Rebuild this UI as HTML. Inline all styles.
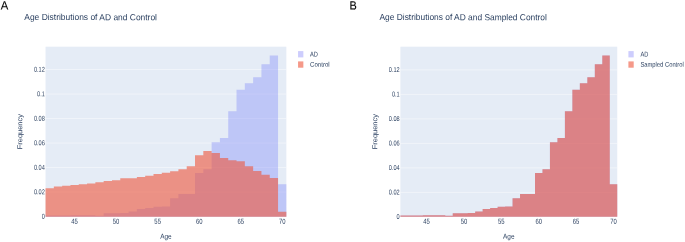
<!DOCTYPE html>
<html><head><meta charset="utf-8"><title>Age Distributions</title>
<style>
html,body{margin:0;padding:0;background:#fff;}
body{width:685px;height:242px;overflow:hidden;}
svg{display:block;font-family:"Liberation Sans",sans-serif;}
</style></head>
<body>
<svg width="685" height="242" viewBox="0 0 685 242">
<defs><filter id="b" x="-5%" y="-5%" width="110%" height="110%"><feGaussianBlur stdDeviation="0.3"/></filter></defs>
<rect width="685" height="242" fill="#fff"/>
<g>
<rect x="45.55" y="46.7" width="240.80" height="170.00" fill="#e5ecf6"/>
<line x1="45.55" x2="286.35" y1="192.05" y2="192.05" stroke="#fff" stroke-width="0.45"/>
<line x1="45.55" x2="286.35" y1="167.55" y2="167.55" stroke="#fff" stroke-width="0.45"/>
<line x1="45.55" x2="286.35" y1="143.05" y2="143.05" stroke="#fff" stroke-width="0.45"/>
<line x1="45.55" x2="286.35" y1="118.55" y2="118.55" stroke="#fff" stroke-width="0.45"/>
<line x1="45.55" x2="286.35" y1="94.05" y2="94.05" stroke="#fff" stroke-width="0.45"/>
<line x1="45.55" x2="286.35" y1="69.55" y2="69.55" stroke="#fff" stroke-width="0.45"/>
<path d="M45.55,216.70L45.55,215.52L53.85,215.52L53.85,215.52L62.16,215.52L62.16,215.52L70.46,215.52L70.46,215.15L78.76,215.15L78.76,215.15L87.07,215.15L87.07,215.15L95.37,215.15L95.37,215.76L103.67,215.76L103.67,213.31L111.98,213.31L111.98,213.31L120.28,213.31L120.28,212.95L128.58,212.95L128.58,211.60L136.89,211.60L136.89,209.03L145.19,209.03L145.19,207.93L153.49,207.93L153.49,206.82L161.80,206.82L161.80,206.58L170.10,206.58L170.10,198.25L178.41,198.25L178.41,194.08L186.71,194.08L186.71,194.08L195.01,194.08L195.01,173.01L203.32,173.01L203.32,169.34L211.62,169.34L211.62,142.14L219.92,142.14L219.92,138.10L228.23,138.10L228.23,111.15L236.53,111.15L236.53,89.83L244.83,89.83L244.83,83.22L253.14,83.22L253.14,77.22L261.44,77.22L261.44,64.23L269.74,64.23L269.74,55.41L278.05,55.41L278.05,184.28L286.35,184.28L286.35,216.70Z" fill="rgb(99,110,250)" fill-opacity="0.3"/>
<path d="M45.55,216.70L45.55,188.32L53.85,188.32L53.85,186.49L62.16,186.49L62.16,185.75L70.46,185.75L70.46,184.90L78.76,184.90L78.76,184.16L87.07,184.16L87.07,183.43L95.37,183.43L95.37,182.32L103.67,182.32L103.67,180.97L111.98,180.97L111.98,180.36L120.28,180.36L120.28,178.28L128.58,178.28L128.58,178.16L136.89,178.16L136.89,177.06L145.19,177.06L145.19,175.83L153.49,175.83L153.49,174.12L161.80,174.12L161.80,172.65L170.10,172.65L170.10,171.30L178.41,171.30L178.41,169.22L186.71,169.22L186.71,166.28L195.01,166.28L195.01,155.13L203.32,155.13L203.32,150.96L211.62,150.96L211.62,153.05L219.92,153.05L219.92,157.94L228.23,157.94L228.23,160.15L236.53,160.15L236.53,161.13L244.83,161.13L244.83,166.15L253.14,166.15L253.14,170.93L261.44,170.93L261.44,174.85L269.74,174.85L269.74,177.91L278.05,177.91L278.05,211.72L286.35,211.72L286.35,216.70Z" fill="rgb(239,85,59)" fill-opacity="0.6"/>
<rect x="298.05" y="51.1" width="5.3" height="6.3" fill="#cdcdfd"/>
<rect x="298.05" y="61.4" width="5.3" height="6.3" fill="rgb(239,85,59)" fill-opacity="0.6"/>
<rect x="400.4" y="46.7" width="216.85" height="170.00" fill="#e5ecf6"/>
<line x1="400.4" x2="617.25" y1="192.40" y2="192.40" stroke="#fff" stroke-width="0.45"/>
<line x1="400.4" x2="617.25" y1="167.90" y2="167.90" stroke="#fff" stroke-width="0.45"/>
<line x1="400.4" x2="617.25" y1="143.40" y2="143.40" stroke="#fff" stroke-width="0.45"/>
<line x1="400.4" x2="617.25" y1="118.90" y2="118.90" stroke="#fff" stroke-width="0.45"/>
<line x1="400.4" x2="617.25" y1="94.40" y2="94.40" stroke="#fff" stroke-width="0.45"/>
<line x1="400.4" x2="617.25" y1="69.90" y2="69.90" stroke="#fff" stroke-width="0.45"/>
<path d="M400.40,216.70L400.40,215.52L407.88,215.52L407.88,215.52L415.36,215.52L415.36,215.52L422.83,215.52L422.83,215.15L430.31,215.15L430.31,215.15L437.79,215.15L437.79,215.15L445.27,215.15L445.27,215.76L452.74,215.76L452.74,213.31L460.22,213.31L460.22,213.31L467.70,213.31L467.70,212.95L475.18,212.95L475.18,211.60L482.65,211.60L482.65,209.03L490.13,209.03L490.13,207.93L497.61,207.93L497.61,206.82L505.09,206.82L505.09,206.58L512.56,206.58L512.56,198.25L520.04,198.25L520.04,194.08L527.52,194.08L527.52,194.08L535.00,194.08L535.00,173.01L542.47,173.01L542.47,169.34L549.95,169.34L549.95,142.14L557.43,142.14L557.43,138.10L564.91,138.10L564.91,111.15L572.38,111.15L572.38,89.83L579.86,89.83L579.86,83.22L587.34,83.22L587.34,77.22L594.82,77.22L594.82,64.23L602.29,64.23L602.29,55.41L609.77,55.41L609.77,184.28L617.25,184.28L617.25,216.70Z" fill="rgb(99,110,250)" fill-opacity="0.3"/>
<path d="M400.40,216.70L400.40,215.52L407.88,215.52L407.88,215.52L415.36,215.52L415.36,215.52L422.83,215.52L422.83,215.15L430.31,215.15L430.31,215.15L437.79,215.15L437.79,215.15L445.27,215.15L445.27,215.76L452.74,215.76L452.74,213.31L460.22,213.31L460.22,213.31L467.70,213.31L467.70,212.95L475.18,212.95L475.18,211.60L482.65,211.60L482.65,209.03L490.13,209.03L490.13,207.93L497.61,207.93L497.61,206.82L505.09,206.82L505.09,206.58L512.56,206.58L512.56,198.25L520.04,198.25L520.04,194.08L527.52,194.08L527.52,194.08L535.00,194.08L535.00,173.01L542.47,173.01L542.47,169.34L549.95,169.34L549.95,142.14L557.43,142.14L557.43,138.10L564.91,138.10L564.91,111.15L572.38,111.15L572.38,89.83L579.86,89.83L579.86,83.22L587.34,83.22L587.34,77.22L594.82,77.22L594.82,64.23L602.29,64.23L602.29,55.41L609.77,55.41L609.77,184.28L617.25,184.28L617.25,216.70Z" fill="rgb(239,85,59)" fill-opacity="0.6"/>
<rect x="628.4" y="51.1" width="5.3" height="6.3" fill="#cdcdfd"/>
<rect x="628.4" y="61.4" width="5.3" height="6.3" fill="rgb(239,85,59)" fill-opacity="0.6"/>
</g>
<g filter="url(#b)" opacity="1">
<text x="44.85" y="218.75" font-size="7.0" text-anchor="end" textLength="3.11" lengthAdjust="spacingAndGlyphs" fill="#2a3f5f" transform="rotate(0.06 44.85 218.75)">0</text>
<text x="44.85" y="194.25" font-size="7.0" text-anchor="end" textLength="10.90" lengthAdjust="spacingAndGlyphs" fill="#2a3f5f" transform="rotate(0.06 44.85 194.25)">0.02</text>
<text x="44.85" y="169.75" font-size="7.0" text-anchor="end" textLength="10.90" lengthAdjust="spacingAndGlyphs" fill="#2a3f5f" transform="rotate(0.06 44.85 169.75)">0.04</text>
<text x="44.85" y="145.25" font-size="7.0" text-anchor="end" textLength="10.90" lengthAdjust="spacingAndGlyphs" fill="#2a3f5f" transform="rotate(0.06 44.85 145.25)">0.06</text>
<text x="44.85" y="120.75" font-size="7.0" text-anchor="end" textLength="10.90" lengthAdjust="spacingAndGlyphs" fill="#2a3f5f" transform="rotate(0.06 44.85 120.75)">0.08</text>
<text x="44.85" y="96.25" font-size="7.0" text-anchor="end" textLength="7.78" lengthAdjust="spacingAndGlyphs" fill="#2a3f5f" transform="rotate(0.06 44.85 96.25)">0.1</text>
<text x="44.85" y="71.75" font-size="7.0" text-anchor="end" textLength="10.90" lengthAdjust="spacingAndGlyphs" fill="#2a3f5f" transform="rotate(0.06 44.85 71.75)">0.12</text>
<text x="74.61" y="223.75" font-size="7.2" text-anchor="middle" textLength="6.56" lengthAdjust="spacingAndGlyphs" fill="#2a3f5f" transform="rotate(0.06 74.61 223.75)">45</text>
<text x="116.13" y="223.75" font-size="7.2" text-anchor="middle" textLength="6.56" lengthAdjust="spacingAndGlyphs" fill="#2a3f5f" transform="rotate(0.06 116.13 223.75)">50</text>
<text x="157.65" y="223.75" font-size="7.2" text-anchor="middle" textLength="6.56" lengthAdjust="spacingAndGlyphs" fill="#2a3f5f" transform="rotate(0.06 157.65 223.75)">55</text>
<text x="199.16" y="223.75" font-size="7.2" text-anchor="middle" textLength="6.56" lengthAdjust="spacingAndGlyphs" fill="#2a3f5f" transform="rotate(0.06 199.16 223.75)">60</text>
<text x="240.68" y="223.75" font-size="7.2" text-anchor="middle" textLength="6.56" lengthAdjust="spacingAndGlyphs" fill="#2a3f5f" transform="rotate(0.06 240.68 223.75)">65</text>
<text x="282.20" y="223.75" font-size="7.2" text-anchor="middle" textLength="6.56" lengthAdjust="spacingAndGlyphs" fill="#2a3f5f" transform="rotate(0.06 282.20 223.75)">70</text>
<text x="165.95" y="238.80" font-size="7.2" text-anchor="middle" textLength="11.50" lengthAdjust="spacingAndGlyphs" fill="#2a3f5f" transform="rotate(0.06 165.95 238.80)">Age</text>
<text transform="translate(22.30,131.70) rotate(-89.94)" font-size="7.2" text-anchor="middle" textLength="35.2" lengthAdjust="spacingAndGlyphs" fill="#2a3f5f">Frequency</text>
<text x="24.30" y="20.05" font-size="8.8" textLength="132.70" lengthAdjust="spacingAndGlyphs" fill="#2a3f5f" transform="rotate(0.06 24.30 20.05)">Age Distributions of AD and Control</text>
<text x="310.05" y="56.60" font-size="6.8" textLength="7.90" lengthAdjust="spacingAndGlyphs" fill="#2a3f5f" transform="rotate(0.06 310.05 56.60)">AD</text>
<text x="310.05" y="66.75" font-size="6.8" textLength="19.60" lengthAdjust="spacingAndGlyphs" fill="#2a3f5f" transform="rotate(0.06 310.05 66.75)">Control</text>
<text x="399.70" y="219.10" font-size="7.0" text-anchor="end" textLength="3.11" lengthAdjust="spacingAndGlyphs" fill="#2a3f5f" transform="rotate(0.06 399.70 219.10)">0</text>
<text x="399.70" y="194.60" font-size="7.0" text-anchor="end" textLength="10.90" lengthAdjust="spacingAndGlyphs" fill="#2a3f5f" transform="rotate(0.06 399.70 194.60)">0.02</text>
<text x="399.70" y="170.10" font-size="7.0" text-anchor="end" textLength="10.90" lengthAdjust="spacingAndGlyphs" fill="#2a3f5f" transform="rotate(0.06 399.70 170.10)">0.04</text>
<text x="399.70" y="145.60" font-size="7.0" text-anchor="end" textLength="10.90" lengthAdjust="spacingAndGlyphs" fill="#2a3f5f" transform="rotate(0.06 399.70 145.60)">0.06</text>
<text x="399.70" y="121.10" font-size="7.0" text-anchor="end" textLength="10.90" lengthAdjust="spacingAndGlyphs" fill="#2a3f5f" transform="rotate(0.06 399.70 121.10)">0.08</text>
<text x="399.70" y="96.60" font-size="7.0" text-anchor="end" textLength="7.78" lengthAdjust="spacingAndGlyphs" fill="#2a3f5f" transform="rotate(0.06 399.70 96.60)">0.1</text>
<text x="399.70" y="72.10" font-size="7.0" text-anchor="end" textLength="10.90" lengthAdjust="spacingAndGlyphs" fill="#2a3f5f" transform="rotate(0.06 399.70 72.10)">0.12</text>
<text x="426.57" y="223.75" font-size="7.2" text-anchor="middle" textLength="6.56" lengthAdjust="spacingAndGlyphs" fill="#2a3f5f" transform="rotate(0.06 426.57 223.75)">45</text>
<text x="463.96" y="223.75" font-size="7.2" text-anchor="middle" textLength="6.56" lengthAdjust="spacingAndGlyphs" fill="#2a3f5f" transform="rotate(0.06 463.96 223.75)">50</text>
<text x="501.35" y="223.75" font-size="7.2" text-anchor="middle" textLength="6.56" lengthAdjust="spacingAndGlyphs" fill="#2a3f5f" transform="rotate(0.06 501.35 223.75)">55</text>
<text x="538.74" y="223.75" font-size="7.2" text-anchor="middle" textLength="6.56" lengthAdjust="spacingAndGlyphs" fill="#2a3f5f" transform="rotate(0.06 538.74 223.75)">60</text>
<text x="576.12" y="223.75" font-size="7.2" text-anchor="middle" textLength="6.56" lengthAdjust="spacingAndGlyphs" fill="#2a3f5f" transform="rotate(0.06 576.12 223.75)">65</text>
<text x="613.51" y="223.75" font-size="7.2" text-anchor="middle" textLength="6.56" lengthAdjust="spacingAndGlyphs" fill="#2a3f5f" transform="rotate(0.06 613.51 223.75)">70</text>
<text x="508.82" y="238.80" font-size="7.2" text-anchor="middle" textLength="11.50" lengthAdjust="spacingAndGlyphs" fill="#2a3f5f" transform="rotate(0.06 508.82 238.80)">Age</text>
<text transform="translate(377.30,131.70) rotate(-89.94)" font-size="7.2" text-anchor="middle" textLength="35.2" lengthAdjust="spacingAndGlyphs" fill="#2a3f5f">Frequency</text>
<text x="379.50" y="20.05" font-size="8.8" textLength="167.40" lengthAdjust="spacingAndGlyphs" fill="#2a3f5f" transform="rotate(0.06 379.50 20.05)">Age Distributions of AD and Sampled Control</text>
<text x="640.40" y="56.60" font-size="6.8" textLength="7.90" lengthAdjust="spacingAndGlyphs" fill="#2a3f5f" transform="rotate(0.06 640.40 56.60)">AD</text>
<text x="640.40" y="66.75" font-size="6.8" textLength="43.30" lengthAdjust="spacingAndGlyphs" fill="#2a3f5f" transform="rotate(0.06 640.40 66.75)">Sampled Control</text>
</g>
<g filter="url(#b)">
<text transform="rotate(0.06 0.80 9.4)" x="0.80" y="9.4" font-size="12" textLength="7.50" lengthAdjust="spacingAndGlyphs" fill="#000" stroke="#000" stroke-width="0.12">A</text>
<text transform="rotate(0.06 349.40 9.4)" x="349.40" y="9.4" font-size="12" textLength="7.26" lengthAdjust="spacingAndGlyphs" fill="#000" stroke="#000" stroke-width="0.12">B</text>
</g>
</svg>
</body></html>
